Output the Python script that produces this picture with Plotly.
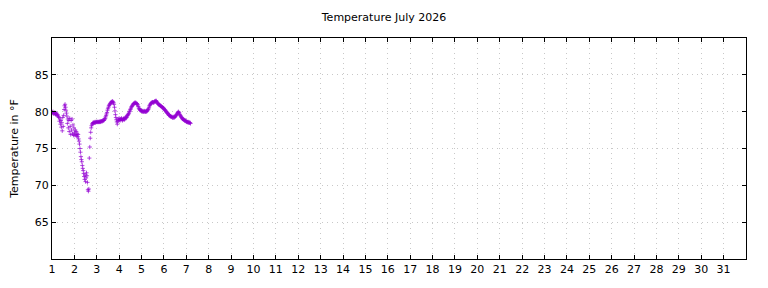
import plotly.graph_objects as go

# Half-hourly readings (48 per day), starting July 1, 00:00
day1 = [79.8, 79.9, 80.0, 79.8, 79.7, 79.8, 79.9, 79.7, 79.6, 79.8, 79.7, 79.5, 79.6, 79.4, 79.3,
        79.2, 78.7, 79.0, 78.3, 78.8, 77.9, 78.5, 77.4, 79.2, 78.0,
        79.5, 80.3, 80.8, 81.0, 80.6, 80.2, 79.8,
        79.4, 78.4, 79.0, 77.8, 78.8, 77.3, 79.1,
        78.0, 76.9, 78.8, 77.5, 79.0, 77.0, 78.2, 76.8, 77.8]
day2 = [77.2, 76.8, 77.5, 76.9, 77.3, 76.7, 77.0, 76.6, 76.9, 76.3, 76.0, 75.6, 75.0,
        74.5, 73.9, 73.5, 73.2, 72.7, 72.3, 72.0,
        71.6, 71.2, 70.8, 71.4, 70.5, 71.0, 71.7,
        71.3, 70.4, 69.4, 69.2, 69.5,
        73.7, 75.2, 76.4, 77.2, 77.8, 78.1, 78.3, 78.4, 78.5, 78.5,
        78.5, 78.5, 78.6, 78.5, 78.6, 78.6]
day3 = [78.6, 78.6, 78.6, 78.6, 78.6, 78.6, 78.6, 78.7, 78.6, 78.7, 78.7, 78.7, 78.7, 78.8, 78.8, 78.8, 78.9, 79.0, 79.1,
        79.3, 79.5, 79.7, 79.9, 80.2, 80.4, 80.6, 80.8,
        80.9, 81.0, 81.1, 81.2, 81.3, 81.3, 81.4, 81.4, 81.3,
        81.2, 81.0, 80.6, 80.1, 79.6,
        79.2, 78.9, 78.6, 78.3, 78.7, 79.0, 78.8]
day4 = [79.1, 78.9, 78.8, 79.0, 78.9, 79.1, 79.0, 78.8, 78.9, 79.0, 79.1, 78.9, 79.0, 79.2, 79.1, 79.3, 79.2, 79.4, 79.5,
        79.6, 79.7, 79.8, 80.0, 80.1, 80.3, 80.4, 80.6, 80.7, 80.8, 80.9, 81.0, 81.1, 81.1, 81.2, 81.2, 81.2,
        81.2, 81.1, 81.1, 81.0, 80.9, 80.7, 80.5, 80.4, 80.3, 80.2, 80.2, 80.1]
day5 = [80.1, 80.1, 80.0, 80.1, 80.0, 80.0, 80.1, 80.0, 80.0, 80.0, 80.1, 80.0, 80.1, 80.2, 80.3,
        80.4, 80.6, 80.8, 80.9, 81.0, 81.1, 81.2, 81.2,
        81.3, 81.3, 81.3, 81.2, 81.3, 81.4, 81.4, 81.4, 81.5, 81.4, 81.3, 81.2, 81.1,
        81.0, 81.0, 80.9, 80.9, 80.8, 80.8, 80.7, 80.7, 80.6, 80.6, 80.5, 80.5]
day6 = [80.4, 80.3, 80.2, 80.2, 80.1, 80.0, 79.9, 79.8, 79.8, 79.7, 79.6, 79.5, 79.5, 79.4, 79.4, 79.3, 79.3, 79.3,
        79.2, 79.2, 79.3, 79.2, 79.2, 79.3, 79.3, 79.4, 79.5, 79.6, 79.7,
        79.8, 79.9, 80.0, 79.9, 79.8,
        79.6, 79.5, 79.4, 79.3, 79.2, 79.1, 79.0, 79.0, 78.9, 78.9, 78.8, 78.8, 78.8, 78.7]
day7 = [78.7, 78.6, 78.6, 78.6, 78.5, 78.6, 78.5, 78.5, 78.5, 78.4]

temps = day1 + day2 + day3 + day4 + day5 + day6 + day7
readings_per_day = 48
days = [1 + i / readings_per_day for i in range(len(temps))]

x_ticks = list(range(1, 32))
y_ticks = [65, 70, 75, 80, 85]

fig = go.Figure()
fig.add_trace(go.Scatter(
    x=days, y=temps, mode="markers",
    marker=dict(symbol="cross-thin", size=3, color="#9400D3",
                line=dict(color="#9400D3", width=0.7)),
    showlegend=False, hoverinfo="x+y"))

axis_common = dict(
    showline=True, linecolor="black", linewidth=1, mirror="allticks",
    ticks="inside", ticklen=4, tickcolor="black", tickwidth=1,
    showgrid=True, gridcolor="#c8c8c8", griddash="1px,4px", gridwidth=1,
    zeroline=False, tickfont=dict(family="DejaVu Sans", size=11, color="black"),
)

fig.update_xaxes(range=[1, 32], tickmode="array", tickvals=x_ticks,
                 ticktext=[str(t) for t in x_ticks], **axis_common)
fig.update_yaxes(range=[60, 90], tickmode="array", tickvals=y_ticks,
                 ticktext=[str(t) for t in y_ticks],
                 title=dict(text="Temperature in °F", standoff=13,
                            font=dict(family="DejaVu Sans", size=11, color="black")),
                 **axis_common)

fig.update_layout(
    width=768, height=288,
    margin=dict(l=52, r=22, t=38, b=26),
    paper_bgcolor="white", plot_bgcolor="white",
    title=dict(text="Temperature July 2026", x=0.5, xanchor="center", y=0.94, yanchor="middle",
               font=dict(family="DejaVu Sans", size=11, color="black")),
    font=dict(family="DejaVu Sans", size=11, color="black"),
)

fig.write_html("out.html")
